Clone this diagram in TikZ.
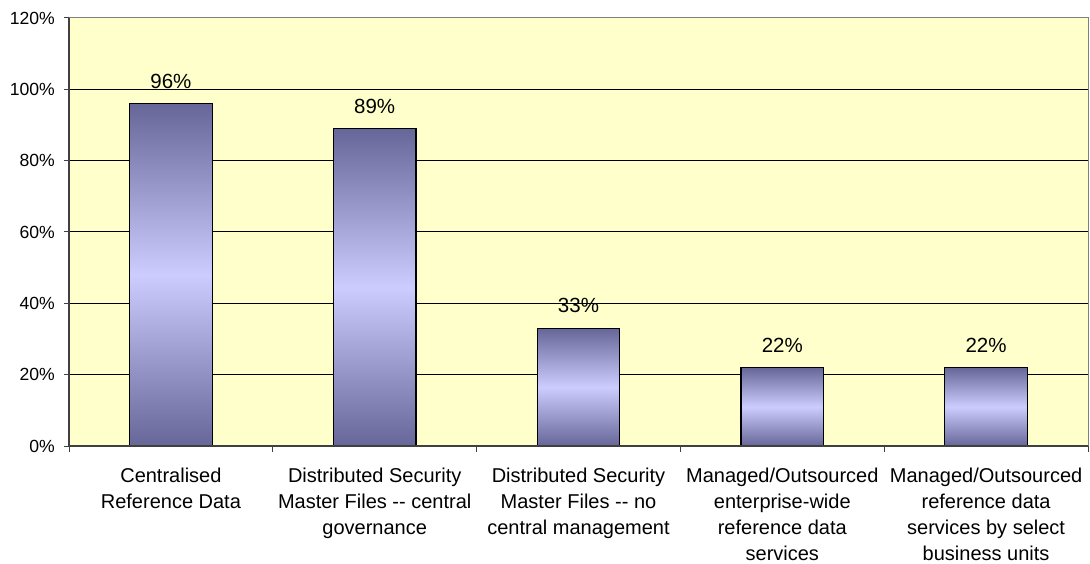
\documentclass[tikz,border=0pt]{standalone}
\usepackage{fontspec}
\setmainfont{Liberation Sans}
\definecolor{plotbg}{HTML}{FFFFCC}
\definecolor{bardark}{HTML}{666699}
\definecolor{barlight}{HTML}{CCCCFF}
\definecolor{frame}{HTML}{808080}
\begin{document}
\begin{tikzpicture}[x=1pt,y=-1pt,
  gridline/.style={draw=black,line width=1pt},
  axisline/.style={draw=black!75,line width=1.1pt},
  tickline/.style={draw=black!75,line width=1pt},
  barbox/.style={draw=black,line width=1.3pt,top color=bardark,bottom color=bardark,middle color=barlight},
  ylab/.style={anchor=east,font=\fontsize{17.6}{20}\selectfont,inner sep=0pt},
  vlab/.style={anchor=base,font=\fontsize{20.5}{24}\selectfont,inner sep=0pt},
  xlab/.style={anchor=north,align=center,font=\fontsize{20}{26}\selectfont,inner sep=0pt}]
\useasboundingbox (0,0) rectangle (1090,564);
% plot area
\fill[plotbg] (69,18) rectangle (1088,446);
% gridlines and y labels
\foreach \v in {0,20,40,60,80,100,120}{
  \pgfmathsetmacro{\yy}{446-\v*3.5667}
  \ifnum\v>0 \draw[gridline] (69,\yy) -- (1088,\yy);\fi
  \draw[tickline] (64,\yy) -- (69,\yy);
  \node[ylab] (y\v) at (55,\yy) {\v\%};
}
% frame
\draw[frame,line width=1pt] (69,18) -- (1088,18) -- (1088,446);
% bars
\foreach \i/\val in {0/96,1/89,2/33,3/22,4/22}{
  \pgfmathsetmacro{\cx}{69+(\i+0.5)*203.8}
  \pgfmathsetmacro{\top}{446-\val*3.5667}
  \path[barbox] (\cx-41.3,446) rectangle (\cx+41.3,\top);
  \node[vlab] (v\i) at (\cx,\top-15.5) {\val\%};
}
% axes
\draw[axisline] (69,18) -- (69,446) -- (1088,446);
\foreach \i in {0,...,5}{
  \pgfmathsetmacro{\tx}{69+\i*203.8}
  \draw[tickline] (\tx,446) -- (\tx,452);
}
% category labels
\node[xlab] (c0) at (170.9,468) {Centralised\\Reference Data};
\node[xlab] (c1) at (374.7,468) {Distributed Security\\Master Files -{}- central\\governance};
\node[xlab] (c2) at (578.5,468) {Distributed Security\\Master Files -{}- no\\central management};
\node[xlab] (c3) at (782.3,468) {Managed/Outsourced\\enterprise-wide\\reference data\\services};
\node[xlab] (c4) at (986.1,468) {Managed/Outsourced\\reference data\\services by select\\business units};
\end{tikzpicture}
\end{document}
